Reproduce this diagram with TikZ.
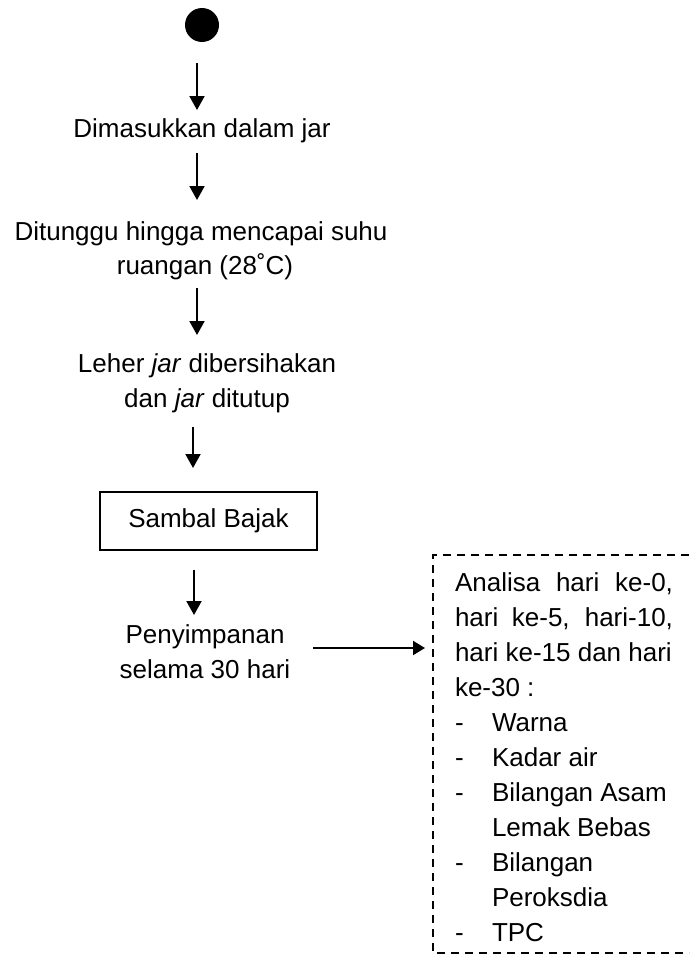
\documentclass[tikz,border=0pt]{standalone}
\usepackage{fontspec}
\setmainfont{Liberation Sans}
\usetikzlibrary{arrows.meta}
\begin{document}
\begin{tikzpicture}[x=1pt,y=-1pt,
  every node/.style={inner sep=0pt,outer sep=0pt,font=\fontsize{26}{35}\selectfont},
  txt/.style={anchor=base},
  boxtxt/.style={anchor=base west},
  arr/.style={line width=2pt,-{Triangle[width=15pt,length=14pt]}},
  harr/.style={line width=2pt,-{Triangle[width=14pt,length=12pt]}},
  stepbox/.style={draw,line width=2pt,minimum width=217pt,minimum height=58pt},
  dashbox/.style={line width=1.8pt,dash pattern=on 8pt off 6pt}]
\useasboundingbox (0,0) rectangle (689,961);

% start node
\node[circle,fill=black,minimum size=34pt] (start) at (202,25) {};

% text nodes
\node[txt] (t1) at (202,137) {Dimasukkan dalam jar};
\node[txt] (t2a) at (201,240) {Ditunggu hingga mencapai suhu};
\node[txt] (t2b) at (205,274) {ruangan (28˚C)};
\node[txt] (t3a) at (207,372) {Leher \textit{jar} dibersihakan};
\node[txt] (t3b) at (207,407) {dan \textit{jar} ditutup};
\node[stepbox] (sb) at (208.5,521) {Sambal Bajak};
\node[txt] (t5a) at (205,643) {Penyimpanan};
\node[txt] (t5b) at (205,678) {selama 30 hari};

% arrow end points
\coordinate (a1s) at (197,63);  \coordinate (a1e) at (197,110);
\coordinate (a2s) at (197,153); \coordinate (a2e) at (197,200);
\coordinate (a3s) at (197,288); \coordinate (a3e) at (197,335);
\coordinate (a4s) at (193,427); \coordinate (a4e) at (193,468);
\coordinate (a5s) at (194,570); \coordinate (a5e) at (194,615);
\coordinate (a6s) at (313,648); \coordinate (a6e) at (425,648);

\draw[arr] (a1s) -- (a1e);
\draw[arr] (a2s) -- (a2e);
\draw[arr] (a3s) -- (a3e);
\draw[arr] (a4s) -- (a4e);
\draw[arr] (a5s) -- (a5e);
\draw[harr] (a6s) -- (a6e);

% dashed box (open at the right, cut by the page edge)
\coordinate (dtr) at (689,555);
\coordinate (dtl) at (433,555);
\coordinate (dbl) at (433,953);
\coordinate (dbr) at (689,953);
\draw[dashbox] (dtr) -- (dtl) -- (dbl) -- (dbr);

% box text
\node[boxtxt] (b1) at (455,591) {\makebox[218pt][s]{Analisa hari ke-0,}};
\node[boxtxt] (b2) at (455,626) {\makebox[218pt][s]{hari ke-5, hari-10,}};
\node[boxtxt] (b3) at (455,661) {hari ke-15 dan hari};
\node[boxtxt] (b4) at (455,696) {ke-30 :};
\node[boxtxt] (b5) at (455,731) {\makebox[37pt][l]{-}Warna};
\node[boxtxt] (b6) at (455,766) {\makebox[37pt][l]{-}Kadar air};
\node[boxtxt] (b7) at (455,801) {\makebox[37pt][l]{-}Bilangan Asam};
\node[boxtxt] (b8) at (455,836) {\hspace*{37pt}Lemak Bebas};
\node[boxtxt] (b9) at (455,871) {\makebox[37pt][l]{-}Bilangan};
\node[boxtxt] (b10) at (455,906) {\hspace*{37pt}Peroksdia};
\node[boxtxt] (b11) at (455,941) {\makebox[37pt][l]{-}TPC};
\end{tikzpicture}
\end{document}
